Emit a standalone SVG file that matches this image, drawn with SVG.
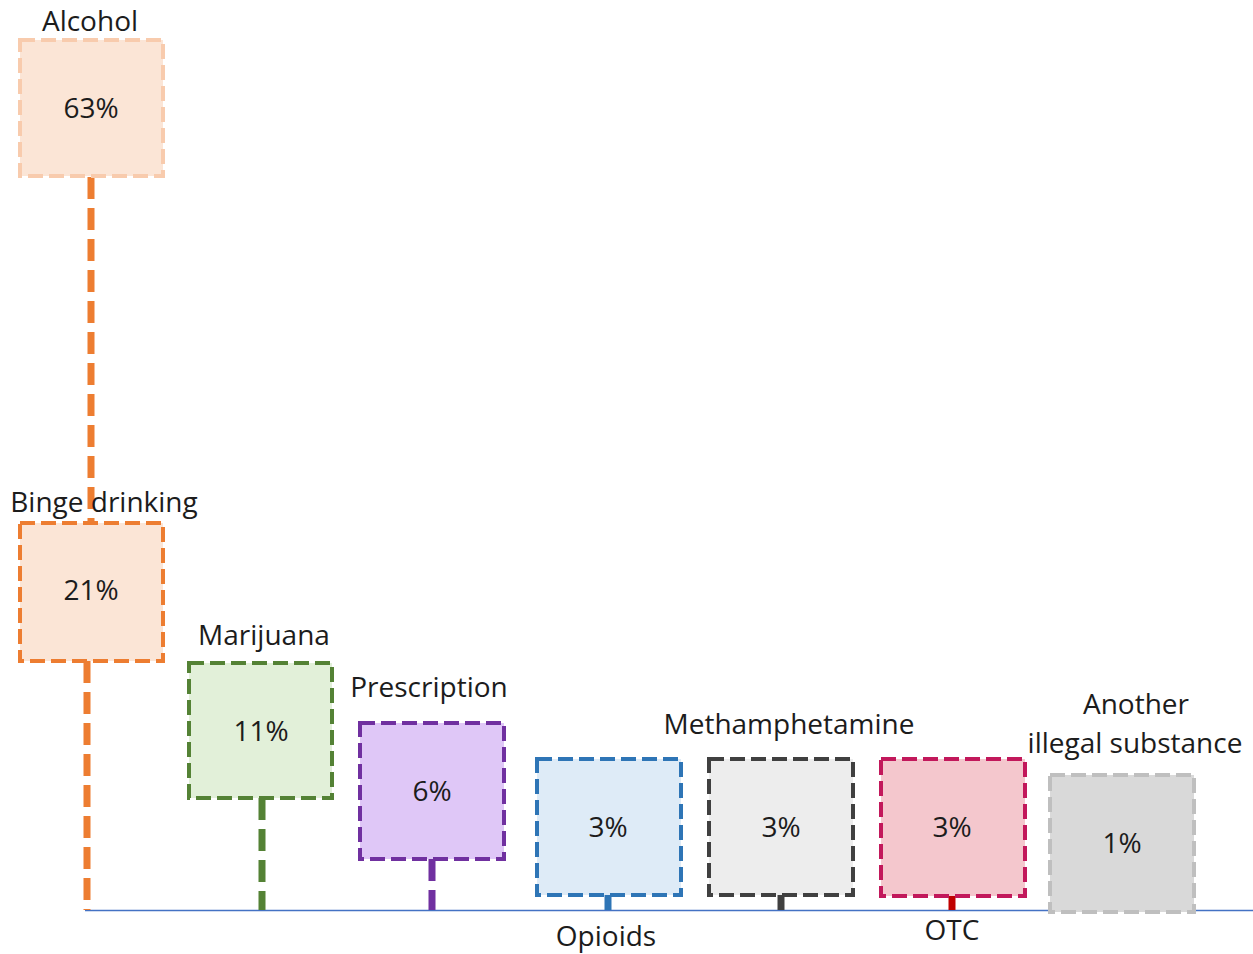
<svg xmlns="http://www.w3.org/2000/svg" width="1253" height="954" viewBox="0 0 1253 954">
<style>
  text { font-family: "Open Sans", "Liberation Sans", sans-serif; font-size: 28px; fill: #1c1c1c; text-anchor: middle; }
  .box { stroke-width: 4; stroke-dasharray: 15 6; }
  .conn { stroke-width: 7; stroke-dasharray: 22 9; fill: none; }
</style>
<rect width="1253" height="954" fill="#ffffff"/>
<g id="connectors">
  <line x1="85" y1="910.5" x2="1253" y2="910.5" stroke="#4472C4" stroke-width="1.3"/>
  <line class="conn" x1="91" y1="177" x2="91" y2="522" stroke="#ED7D31"/>
  <line class="conn" x1="87" y1="661" x2="87" y2="910" stroke="#ED7D31"/>
  <line class="conn" x1="262" y1="798" x2="262" y2="910" stroke="#548235"/>
  <line class="conn" x1="432" y1="859" x2="432" y2="910" stroke="#7030A0"/>
  <line class="conn" x1="608" y1="895" x2="608" y2="910" stroke="#2E75B6"/>
  <line class="conn" x1="781" y1="895" x2="781" y2="910" stroke="#404040"/>
  <line class="conn" x1="952" y1="896" x2="952" y2="910" stroke="#C00000"/>
</g>
<g id="alcohol">
  <rect class="box" x="20" y="40" width="143" height="136" fill="#FBE5D6" stroke="#F8CBAD"/>
  <text x="90" y="31">Alcohol</text>
  <text x="91" y="118">63%</text>
</g>
<g id="binge">
  <rect class="box" x="20" y="523" width="143" height="138" fill="#FBE5D6" stroke="#ED7D31"/>
  <text x="104" y="512">Binge drinking</text>
  <text x="91" y="600">21%</text>
</g>
<g id="marijuana">
  <rect class="box" x="189" y="663" width="143" height="135" fill="#E2F0D9" stroke="#548235"/>
  <text x="264" y="645">Marijuana</text>
  <text x="261" y="741">11%</text>
</g>
<g id="prescription">
  <rect class="box" x="360" y="723" width="144" height="136" fill="#DFC7F7" stroke="#7030A0"/>
  <text x="429" y="697">Prescription</text>
  <text x="432" y="801">6%</text>
</g>
<g id="opioids">
  <rect class="box" x="537" y="759" width="144" height="136" fill="#DEEBF7" stroke="#2E75B6"/>
  <text x="606" y="946">Opioids</text>
  <text x="608" y="837">3%</text>
</g>
<g id="methamphetamine">
  <rect class="box" x="709" y="759" width="144" height="136" fill="#EDEDED" stroke="#404040"/>
  <text x="789" y="734">Methamphetamine</text>
  <text x="781" y="837">3%</text>
</g>
<g id="otc">
  <rect class="box" x="881" y="759" width="144" height="137" fill="#F4C7CD" stroke="#C2185B"/>
  <text x="952" y="940">OTC</text>
  <text x="952" y="837">3%</text>
</g>
<g id="another">
  <rect class="box" x="1050" y="775" width="144" height="137" fill="#D9D9D9" stroke="#BFBFBF"/>
  <text x="1136" y="714">Another</text>
  <text x="1135" y="753">illegal substance</text>
  <text x="1122" y="853">1%</text>
</g>
</svg>
